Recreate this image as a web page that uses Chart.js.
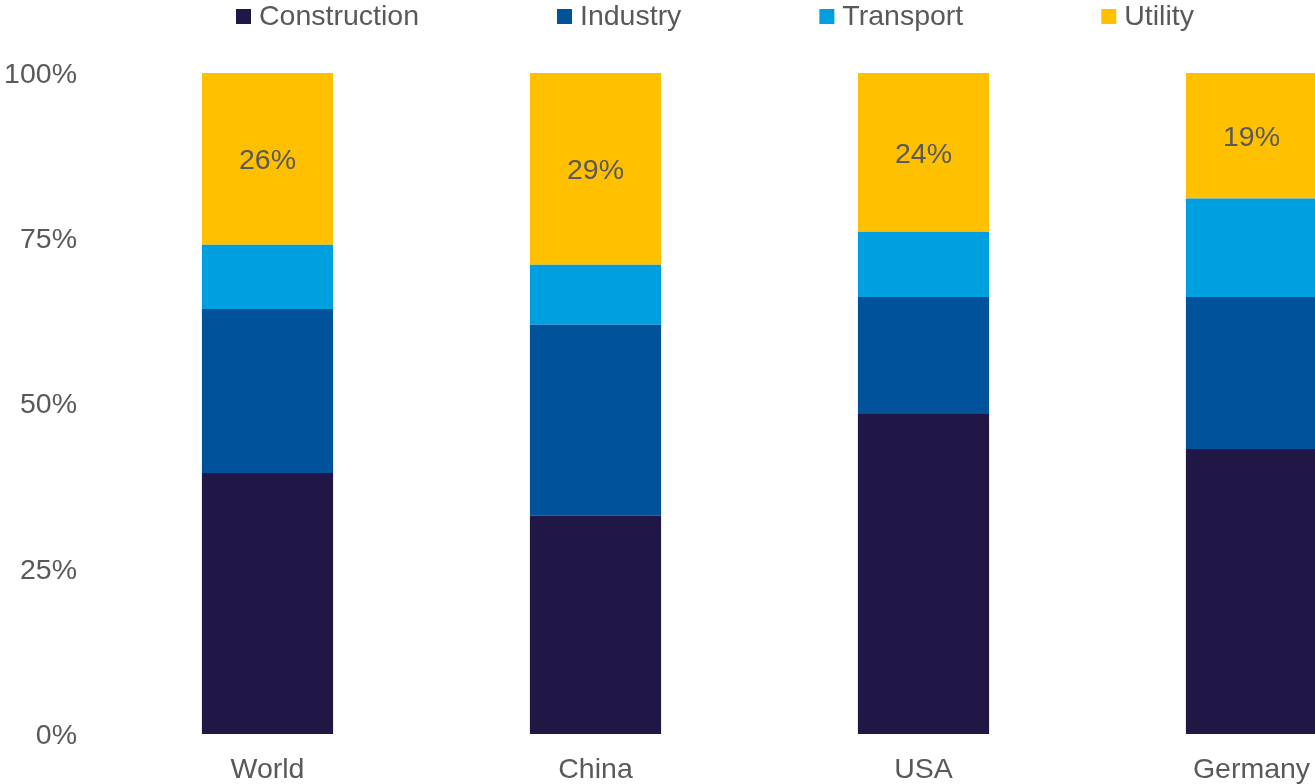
<!DOCTYPE html>
<html>
<head>
<meta charset="utf-8">
<title>Sector shares</title>
<script src="https://cdn.jsdelivr.net/npm/chart.js@4.4.1/dist/chart.umd.min.js"></script>
<style>
    html, body { margin: 0; padding: 0; background: #fff; overflow: hidden; }
    #wrap { position: relative; width: 1420px; height: 784px; }
</style>
</head>
<body>
<div id="wrap"><canvas id="stackChart"></canvas></div>
<script>
// Categorias e séries (%)
const regions = ['World', 'China', 'USA', 'Germany'];
const construction = [39.5, 33.0, 48.4, 43.1];
const industry = [24.8, 28.9, 17.7, 23.0];
const transport = [9.7, 9.1, 9.9, 14.9];
const utility = [26, 29, 24, 19];
const yTicks = [0, 25, 50, 75, 100];

const textColor = '#595959';
const fontFamily = '"Liberation Sans", Arial, sans-serif';
const fontSize = 28.5;

// Legenda desenhada à mão no topo
const topLegend = {
    id: 'topLegend',
    afterDraw(chart) {
        const ctx = chart.ctx;
        ctx.save();
        ctx.font = fontSize + 'px ' + fontFamily;
        ctx.textBaseline = 'middle';
        ctx.textAlign = 'left';
        let x = 236;
        const y = 16.5;
        chart.data.datasets.forEach(ds => {
            ctx.fillStyle = ds.backgroundColor;
            ctx.fillRect(x, y - 7.5, 15, 15);
            ctx.fillStyle = textColor;
            ctx.fillText(ds.label, x + 23, y + 1);
            x += 23 + ctx.measureText(ds.label).width + 138;
        });
        ctx.restore();
    }
};

// Rótulo de valor no segmento Utility
const utilityLabels = {
    id: 'utilityLabels',
    afterDatasetsDraw(chart) {
        const ctx = chart.ctx;
        const idx = chart.data.datasets.findIndex(ds => ds.label === 'Utility');
        const meta = chart.getDatasetMeta(idx);
        ctx.save();
        ctx.font = fontSize + 'px ' + fontFamily;
        ctx.fillStyle = textColor;
        ctx.textAlign = 'center';
        ctx.textBaseline = 'middle';
        meta.data.forEach((bar, i) => {
            const v = chart.data.datasets[idx].data[i];
            ctx.fillText(Math.round(v) + '%', bar.x, (bar.y + bar.base) / 2 + 2.5);
        });
        ctx.restore();
    }
};

const ctxStack = document.getElementById('stackChart').getContext('2d');
new Chart(ctxStack, {
    type: 'bar',
    data: {
        labels: regions,
        datasets: [{
            label: 'Construction',
            data: construction,
            backgroundColor: '#201747'
        }, {
            label: 'Industry',
            data: industry,
            backgroundColor: '#00539B'
        }, {
            label: 'Transport',
            data: transport,
            backgroundColor: '#009FDF'
        }, {
            label: 'Utility',
            data: utility,
            backgroundColor: '#FFC000'
        }]
    },
    options: {
        responsive: true,
        maintainAspectRatio: false,
        animation: false,
        layout: {
            padding: { top: 73, left: 4, right: 4.5, bottom: 0 }
        },
        datasets: {
            bar: {
                categoryPercentage: 1,
                barPercentage: 0.4
            }
        },
        plugins: {
            legend: { display: false },
            tooltip: { enabled: false }
        },
        scales: {
            x: {
                stacked: true,
                grid: { display: false, drawTicks: false },
                border: { display: false },
                afterFit: scale => { scale.height = 50; },
                ticks: {
                    color: textColor,
                    padding: 19,
                    font: { family: fontFamily, size: fontSize }
                }
            },
            y: {
                stacked: true,
                min: 0,
                max: 100,
                afterBuildTicks: axis => {
                    axis.ticks = yTicks.map(v => ({ value: v }));
                },
                afterFit: scale => { scale.width = 99.5; },
                grid: { display: false, drawTicks: false },
                border: { display: false },
                ticks: {
                    color: textColor,
                    padding: 26.5,
                    labelOffset: 2,
                    font: { family: fontFamily, size: fontSize },
                    callback: v => v + '%'
                }
            }
        }
    },
    plugins: [topLegend, utilityLabels]
});
</script>
</body>
</html>
